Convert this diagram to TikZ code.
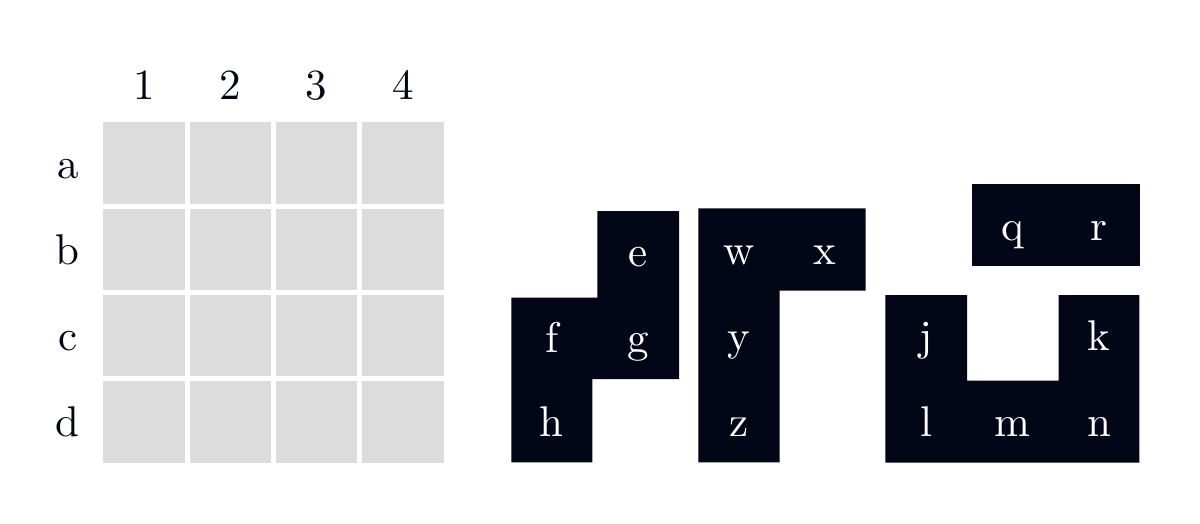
\documentclass[tikz,border=0pt]{standalone}
\usepackage{graphicx}
\definecolor{ink}{HTML}{020617}
\definecolor{cellgray}{RGB}{220,220,220}
\newcommand\bigtxt[1]{\scalebox{4.3}{#1}}
\begin{document}
\begin{tikzpicture}[x=1pt,y=-1pt,
  cell/.style={fill=cellgray, draw=none, minimum width=81.5pt, minimum height=81.5pt, inner sep=0pt, anchor=north west},
  lab/.style={text=ink, font=\fontsize{10}{12}\selectfont, anchor=base, inner sep=0pt},
  plab/.style={lab, text=white},
  piece/.style={fill=ink, draw=none}]
\useasboundingbox (0,0) rectangle (1200,523);
% grid
\foreach \r [count=\i from 0] in {a,b,c,d} {
  \foreach \c in {1,...,4} {
    \node[cell] (\r\c) at ({103+(\c-1)*86.3},{122+\i*86.3}) {};
  }
}
% column labels
\node[lab] (col1) at (143.9,99.3) {\bigtxt{1}};
\node[lab] (col2) at (230.2,99.3) {\bigtxt{2}};
\node[lab] (col3) at (316.5,99.3) {\bigtxt{3}};
\node[lab] (col4) at (402.8,99.3) {\bigtxt{4}};
% row labels
\node[lab] (rowa) at (67.8,178.05) {\bigtxt{a}};
\node[lab] (rowb) at (67.8,264.35) {\bigtxt{b}};
\node[lab] (rowc) at (67.8,350.65) {\bigtxt{c}};
\node[lab] (rowd) at (67.8,436.95) {\bigtxt{d}};
% piece 1
\fill[piece] (597.3,211) -- (679,211) -- (679,379) -- (592.3,379) -- (592.3,462.3)
  -- (511.3,462.3) -- (511.3,297.7) -- (597.3,297.7) -- cycle;
% piece 2
\fill[piece] (698.3,208.3) -- (865.7,208.3) -- (865.7,290.7) -- (779.7,290.7)
  -- (779.7,462.3) -- (698.3,462.3) -- cycle;
% piece 3
\fill[piece] (885.3,295) -- (967,295) -- (967,380.7) -- (1058.7,380.7) -- (1058.7,295)
  -- (1139.3,295) -- (1139.3,462.5) -- (885.3,462.5) -- cycle;
% piece 4
\fill[piece] (972,184.3) rectangle (1140,265.7);
% piece labels
\node[plab] (e) at (638,266.7) {\bigtxt{e}};
\node[plab] (f) at (551.8,352.5) {\bigtxt{f}};
\node[plab] (g) at (638,352.5) {\bigtxt{g}};
\node[plab] (h) at (551.8,436.8) {\bigtxt{h}};
\node[plab] (w) at (739,264.35) {\bigtxt{w}};
\node[plab] (x) at (825,264.35) {\bigtxt{x}};
\node[plab] (y) at (739,350.65) {\bigtxt{y}};
\node[plab] (z) at (739,436.95) {\bigtxt{z}};
\node[plab] (j) at (926,350.65) {\bigtxt{j}};
\node[plab] (k) at (1099,350.65) {\bigtxt{k}};
\node[plab] (l) at (926,436.95) {\bigtxt{l}};
\node[plab] (m) at (1012.4,436.95) {\bigtxt{m}};
\node[plab] (n) at (1099,436.95) {\bigtxt{n}};
\node[plab] (q) at (1012.7,240.3) {\bigtxt{q}};
\node[plab] (r) at (1099,240.3) {\bigtxt{r}};
\end{tikzpicture}
\end{document}
